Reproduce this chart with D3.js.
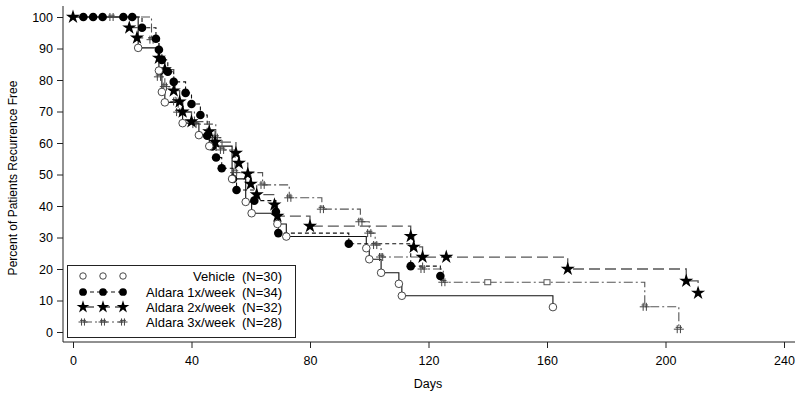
<!DOCTYPE html>
<html><head><meta charset="utf-8">
<script src="https://cdn.jsdelivr.net/npm/d3@7"></script>
<style>
body{margin:0;background:#fff;}
svg{display:block;font-family:"Liberation Sans",Arial,Helvetica,sans-serif;}
</style></head>
<body><svg id="c" width="800" height="400"></svg>
<script>
// ---- data ----
const xTicks = [0, 40, 80, 120, 160, 200, 240];
const yTicks = [0, 10, 20, 30, 40, 50, 60, 70, 80, 90, 100];

const vehicleDays = [22, 29, 30, 31, 37, 42.5, 46, 53.7, 58.3, 60.3, 69, 72, 99, 100, 104, 110, 111, 162];
const vehiclePct  = [90.2, 83, 76.2, 72.9, 66.3, 62.5, 59, 48.6, 41.3, 37.7, 34.3, 30.3, 26.6, 23.1, 18.8, 15.3, 11.5, 7.9];

const x1Days = [3.5, 6.8, 10, 17, 20, 23.3, 28, 29, 30, 32, 34, 38, 40, 43, 45.3, 47, 48.3, 50.2, 54, 55.2, 61.2, 68.5, 69.3, 93.1, 114, 124];
const x1Pct  = [100, 100, 100, 100, 100, 96.6, 93.1, 89.6, 86.4, 82.6, 79.4, 75.9, 72.4, 68.9, 62.3, 58.9, 55.4, 52, 48.6, 45.1, 41.7, 38.2, 31.4, 28, 20.9, 17.8];

const x2Days = [0, 19, 21.6, 29, 31, 34, 36, 37, 40, 46, 48, 55, 56, 59, 60, 62, 68, 69, 80, 114, 115, 118, 126, 167, 207, 211];
const x2Pct  = [100, 96.6, 93.4, 87, 83.3, 76.6, 73.1, 69.9, 66.8, 63.6, 60.3, 56.8, 53.6, 50.2, 47, 43.6, 40.4, 36.8, 33.6, 30.4, 27, 23.8, 23.8, 20, 16.2, 12.4];

const x3Days = [13, 26.5, 29, 31, 34.5, 35.5, 41, 48.2, 50.3, 54.7, 64, 73, 84, 97, 100, 102, 104, 118, 125, 140, 160, 193, 204.5];
const x3Pct  = [100, 92.8, 81, 77.9, 73.2, 69.8, 66, 61.7, 57.8, 50.6, 46.7, 42.6, 39, 35, 31.4, 27.6, 23.8, 20, 15.8, 15.8, 15.8, 8, 0.9];
const x3Censored = [140, 160];

const seriesNames = ["Vehicle", "Aldara 1x/week", "Aldara 2x/week", "Aldara 3x/week"];
const seriesN = ["(N=30)", "(N=34)", "(N=32)", "(N=28)"];

// ---- chart ----
const svg = d3.select("#c");
const x = d3.scaleLinear().domain([0, 240]).range([73, 784]);
const y = d3.scaleLinear().domain([0, 100]).range([332, 17]);

const series = [
  {days: vehicleDays, pct: vehiclePct, stroke: "#111", dash: null, width: 1.1, sym: "open"},
  {days: x1Days, pct: x1Pct, stroke: "#111", dash: "4,3", width: 1.1, sym: "dot"},
  {days: x2Days, pct: x2Pct, stroke: "#555", dash: "11,5", width: 1.3, sym: "star"},
  {days: x3Days, pct: x3Pct, stroke: "#555", dash: "9,3,2,3", width: 1.1, sym: "hash"}
];

// axes
const gx = svg.append("g").attr("transform", "translate(0,342)")
  .call(d3.axisBottom(x).tickValues(xTicks).tickSize(6).tickPadding(8).tickFormat(d3.format("d")));
gx.select(".domain").remove();
gx.append("line").attr("x1", 63).attr("x2", 795).attr("y1", 0).attr("y2", 0).attr("stroke", "#222");
const gy = svg.append("g").attr("transform", "translate(63,0)")
  .call(d3.axisLeft(y).tickValues(yTicks).tickSize(6).tickPadding(4).tickFormat(d3.format("d")));
gy.select(".domain").remove();
gy.append("line").attr("x1", 0).attr("x2", 0).attr("y1", 6).attr("y2", 342).attr("stroke", "#222");
svg.selectAll(".tick text").attr("font-size", 12.5).attr("fill", "#000").attr("font-family", "Liberation Sans, Arial, sans-serif");
svg.selectAll(".tick line").attr("stroke", "#222");

svg.append("text").attr("x", 428).attr("y", 388).attr("text-anchor", "middle")
  .attr("font-size", 12.5).text("Days");
svg.append("text").attr("transform", "translate(17,178) rotate(-90)").attr("text-anchor", "middle")
  .attr("font-size", 12).text("Percent of Patients Recurrence Free");

// step paths
function stepPath(days, pct) {
  let d = `M${x(0)},${y(100)}`;
  days.forEach((dd, i) => { d += `H${x(dd)}V${y(pct[i])}`; });
  return d;
}

function drawSymbol(g, type, cx, cy, k = 1) {
  if (type === "open") {
    g.append("circle").attr("cx", cx).attr("cy", cy).attr("r", 3.8 * k).attr("fill", "#fff").attr("stroke", "#333").attr("stroke-width", 0.9);
  } else if (type === "dot") {
    g.append("circle").attr("cx", cx).attr("cy", cy).attr("r", 4.3 * k).attr("fill", "#000");
  } else if (type === "star") {
    g.append("path").attr("d", d3.symbol().type(d3.symbolStar).size(62 * k * k)()).attr("transform", `translate(${cx},${cy})`).attr("fill", "#000");
  } else if (type === "hash") {
    const s = k;
    g.append("path").attr("d", `M${cx-1.6*s},${cy-4*s}V${cy+4*s}M${cx+1.6*s},${cy-4*s}V${cy+4*s}M${cx-5*s},${cy}H${cx+5*s}M${cx-3.2*s},${cy-1.8*s}H${cx+3.2*s}`)
      .attr("stroke", "#444").attr("stroke-width", 1).attr("fill", "none");
  } else if (type === "square") {
    g.append("rect").attr("x", cx - 3).attr("y", cy - 2.5).attr("width", 6).attr("height", 5).attr("fill", "#fff").attr("stroke", "#555");
  }
}

const plot = svg.append("g");
series.forEach(s => {
  plot.append("path").attr("d", stepPath(s.days, s.pct)).attr("fill", "none")
    .attr("stroke", s.stroke).attr("stroke-width", s.width).attr("stroke-dasharray", s.dash);
});
series.slice().reverse().forEach(s => {
  const g = plot.append("g");
  s.days.forEach((dd, i) => {
    let t = s.sym;
    if (s.sym === "hash" && x3Censored.includes(dd)) t = "square";
    drawSymbol(g, t, x(dd), y(s.pct[i]));
  });
});

// legend
const lg = svg.append("g");
lg.append("rect").attr("x", 67.5).attr("y", 265.5).attr("width", 228).attr("height", 72)
  .attr("fill", "#fff").attr("stroke", "#222");
const rowY = [276, 292, 307, 322];
series.forEach((s, i) => {
  const ry = rowY[i];
  if (i > 0) {
    lg.append("line").attr("x1", 83).attr("x2", 123).attr("y1", ry).attr("y2", ry)
      .attr("stroke", s.stroke).attr("stroke-width", s.width).attr("stroke-dasharray", s.dash);
  }
  [83, 103, 123].forEach(cx => drawSymbol(lg, s.sym, cx, ry, i === 0 ? 0.85 : 0.9));
  lg.append("text").attr("x", 235).attr("y", ry + 4.5).attr("text-anchor", "end").attr("font-size", 13).text(seriesNames[i]);
  lg.append("text").attr("x", 242).attr("y", ry + 4.5).attr("font-size", 13).text(seriesN[i]);
});
</script></body></html>
